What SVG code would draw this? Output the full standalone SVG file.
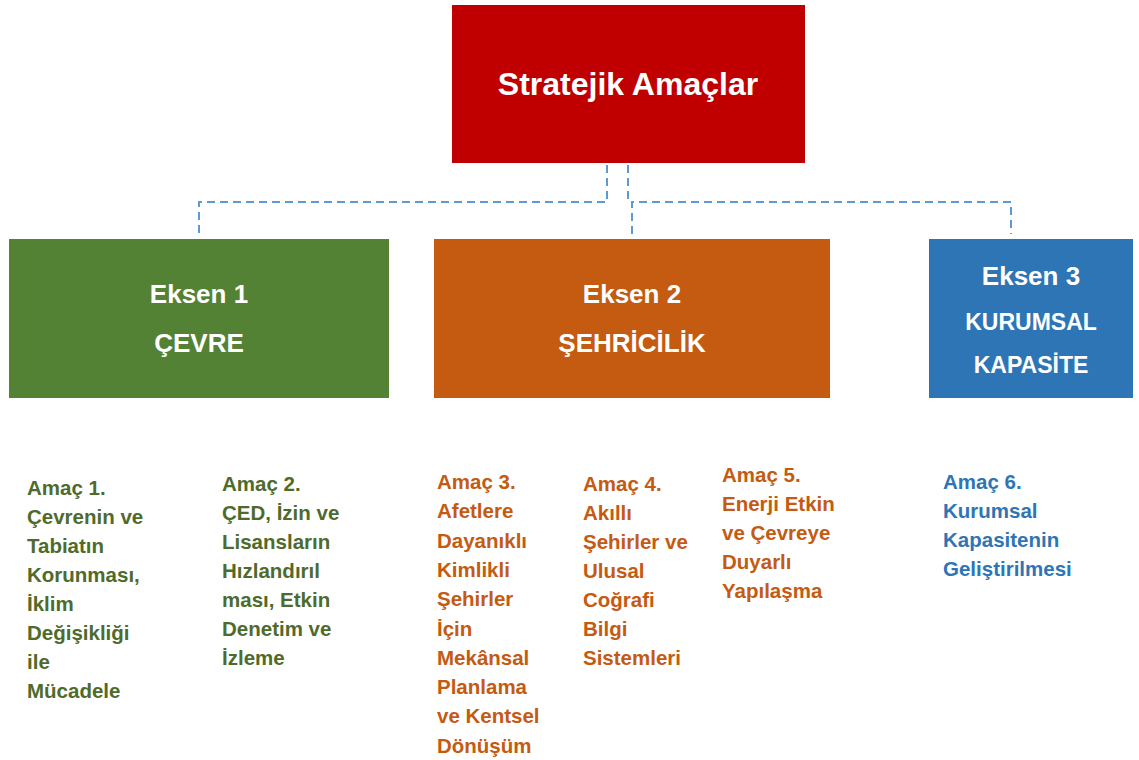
<svg xmlns="http://www.w3.org/2000/svg" width="1139" height="760" viewBox="0 0 1139 760">
<style>
text{font-family:"Liberation Sans",Arial,sans-serif;font-weight:bold}
.w{fill:#ffffff}
.t{font-size:32px}
.e{font-size:26px}
.k{font-size:23px}
.g{font-size:20.5px}
.gr{fill:#4f6b2b}
.or{fill:#c55a11}
.bl{fill:#2e75b6}
.c{fill:none;stroke:#5b9bd5;stroke-width:2;stroke-dasharray:8 5}
</style>
<rect width="1139" height="760" fill="#ffffff"/>
<g id="connectors">
<path class="c" d="M607 165 V202 H199 V234"/>
<path class="c" d="M628 165 V202"/>
<path class="c" d="M632 234 V202 H1011 V234"/>
</g>
<g id="root">
<rect x="452" y="5" width="353" height="158" fill="#c00000"/>
<text class="w t" x="628" y="95" text-anchor="middle">Stratejik Amaçlar</text>
</g>
<g id="eksen1">
<rect x="9" y="239" width="380" height="159" fill="#548235"/>
<text class="w e" x="199" y="303" text-anchor="middle">Eksen 1</text>
<text class="w e" x="199" y="352" text-anchor="middle">ÇEVRE</text>
</g>
<g id="eksen2">
<rect x="434" y="239" width="396" height="159" fill="#c55a11"/>
<text class="w e" x="632" y="303" text-anchor="middle">Eksen 2</text>
<text class="w e" x="632" y="352" text-anchor="middle">ŞEHRİCİLİK</text>
</g>
<g id="eksen3">
<rect x="929" y="239" width="204" height="159" fill="#2e75b6"/>
<text class="w e" x="1031" y="285" text-anchor="middle">Eksen 3</text>
<text class="w k" x="1031" y="330" text-anchor="middle">KURUMSAL</text>
<text class="w k" x="1031" y="373" text-anchor="middle">KAPASİTE</text>
</g>
<g id="amac1">
<text class="g gr" x="27" y="495"><tspan x="27">Amaç 1.</tspan><tspan x="27" dy="29">Çevrenin ve</tspan><tspan x="27" dy="29">Tabiatın</tspan><tspan x="27" dy="29">Korunması,</tspan><tspan x="27" dy="29">İklim</tspan><tspan x="27" dy="29">Değişikliği</tspan><tspan x="27" dy="29">ile</tspan><tspan x="27" dy="29">Mücadele</tspan></text>
</g>
<g id="amac2">
<text class="g gr" x="222" y="491"><tspan x="222">Amaç 2.</tspan><tspan x="222" dy="29">ÇED, İzin ve</tspan><tspan x="222" dy="29">Lisansların</tspan><tspan x="222" dy="29">Hızlandırıl</tspan><tspan x="222" dy="29">ması, Etkin</tspan><tspan x="222" dy="29">Denetim ve</tspan><tspan x="222" dy="29">İzleme</tspan></text>
</g>
<g id="amac3">
<text class="g or" x="437" y="489"><tspan x="437">Amaç 3.</tspan><tspan x="437" dy="29.3">Afetlere</tspan><tspan x="437" dy="29.3">Dayanıklı</tspan><tspan x="437" dy="29.3">Kimlikli</tspan><tspan x="437" dy="29.3">Şehirler</tspan><tspan x="437" dy="29.3">İçin</tspan><tspan x="437" dy="29.3">Mekânsal</tspan><tspan x="437" dy="29.3">Planlama</tspan><tspan x="437" dy="29.3">ve Kentsel</tspan><tspan x="437" dy="29.3">Dönüşüm</tspan></text>
</g>
<g id="amac4">
<text class="g or" x="583" y="491"><tspan x="583">Amaç 4.</tspan><tspan x="583" dy="29">Akıllı</tspan><tspan x="583" dy="29">Şehirler ve</tspan><tspan x="583" dy="29">Ulusal</tspan><tspan x="583" dy="29">Coğrafi</tspan><tspan x="583" dy="29">Bilgi</tspan><tspan x="583" dy="29">Sistemleri</tspan></text>
</g>
<g id="amac5">
<text class="g or" x="722" y="482"><tspan x="722">Amaç 5.</tspan><tspan x="722" dy="29">Enerji Etkin</tspan><tspan x="722" dy="29">ve Çevreye</tspan><tspan x="722" dy="29">Duyarlı</tspan><tspan x="722" dy="29">Yapılaşma</tspan></text>
</g>
<g id="amac6">
<text class="g bl" x="943" y="489"><tspan x="943">Amaç 6.</tspan><tspan x="943" dy="29">Kurumsal</tspan><tspan x="943" dy="29">Kapasitenin</tspan><tspan x="943" dy="29">Geliştirilmesi</tspan></text>
</g>
</svg>
